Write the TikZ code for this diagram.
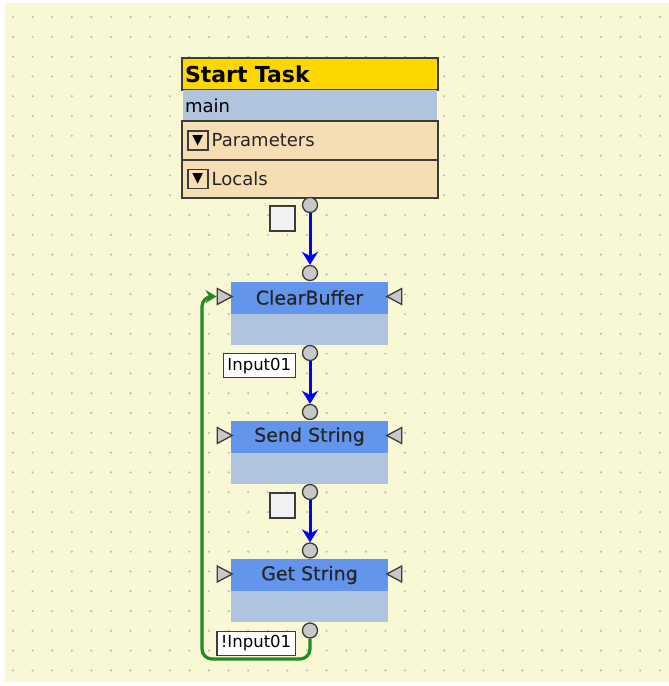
\documentclass[tikz,border=0pt]{standalone}
\usepackage{fontspec}
\setmainfont{DejaVu Sans}
\newfontfamily\blockfont[FakeBold=0.6]{DejaVu Sans}
\usetikzlibrary{arrows.meta, positioning, shapes.geometric}

\definecolor{canvasbg}{RGB}{248,248,212}
\definecolor{griddot}{RGB}{188,188,192}
\definecolor{taskgold}{RGB}{255,215,0}
\definecolor{steelrow}{RGB}{176,196,222}
\definecolor{wheatrow}{RGB}{245,222,179}
\definecolor{headblue}{RGB}{100,149,237}
\definecolor{edgegray}{RGB}{60,60,60}
\definecolor{pingray}{RGB}{200,200,200}
\definecolor{flowblue}{RGB}{0,0,255}
\definecolor{loopgreen}{RGB}{34,139,34}

\begin{document}
\begin{tikzpicture}[x=1pt, y=-1pt,
    taskhead/.style={draw=edgegray, line width=1.5pt, fill=taskgold, minimum width=256pt, minimum height=32pt,
        text width=250pt, align=left, inner sep=0pt, outer sep=0pt, font=\fontsize{22}{26}\selectfont\bfseries},
    taskname/.style={fill=steelrow, minimum width=254pt, minimum height=31pt, text width=250pt, align=left,
        inner sep=0pt, outer sep=0pt, font=\fontsize{18}{22}\selectfont},
    taskrow/.style={draw=edgegray, line width=1.5pt, fill=wheatrow, minimum width=256pt, inner sep=0pt, outer sep=0pt},
    dropbox/.style={draw=edgegray, line width=1.5pt, fill=wheatrow, minimum width=20pt, minimum height=19pt,
        inner sep=0pt, font=\fontsize{14}{14}\selectfont},
    rowtext/.style={inner sep=0pt, font=\fontsize{18}{22}\selectfont, text=black!85},
    blockhead/.style={fill=headblue, minimum width=157pt, minimum height=32pt, inner sep=0pt, outer sep=0pt,
        font=\blockfont\fontsize{19}{22}\selectfont, text=black!85},
    blockbody/.style={fill=steelrow, minimum width=157pt, minimum height=31pt, inner sep=0pt, outer sep=0pt},
    port/.style={circle, draw=edgegray, line width=1.3pt, fill=pingray, minimum size=15pt, inner sep=0pt},
    sideport/.style={isosceles triangle, isosceles triangle stretches, draw=edgegray, line width=1.3pt,
        fill=pingray, minimum width=16pt, minimum height=15pt, inner sep=0pt},
    condlabel/.style={draw=edgegray, line width=1.3pt, fill=white, inner xsep=4pt, inner ysep=1pt,
        minimum height=24pt, font=\fontsize{16.5}{18}\selectfont},
    checkbox/.style={draw=edgegray, line width=1.6pt, fill=black!5, minimum size=25pt, inner sep=0pt},
    flow/.style={-{Stealth[length=13pt, width=16pt]}, flowblue, line width=3pt},
    loopback/.style={-{Stealth[length=11pt, width=13pt]}, loopgreen, line width=3.2pt, rounded corners=10pt}
]
    \useasboundingbox (0,0) rectangle (669,686);

    % canvas with its dot grid
    \fill[canvasbg] (5,3) rectangle (669,682);
    \foreach \i in {0,...,33} {
        \foreach \j in {0,...,33} {
            \fill[griddot] (13+19.6*\i, 17+19.8*\j) circle (1.2pt);
        }
    }

    % start task header
    \node[taskhead] (task) at (310,74) {Start Task};
    \node[taskname, below=0pt of task] (taskmain) {main};
    \node[taskrow, minimum height=39pt, below=0pt of taskmain] (params) {};
    \node[taskrow, minimum height=38pt, below=0pt of params] (locals) {};
    \node[dropbox, anchor=west] (params-btn) at ([xshift=5pt]params.west) {▼};
    \node[rowtext, anchor=west] (params-text) at ([xshift=3pt]params-btn.east) {Parameters};
    \node[dropbox, anchor=west] (locals-btn) at ([xshift=5pt]locals.west) {▼};
    \node[rowtext, anchor=west] (locals-text) at ([xshift=3pt]locals-btn.east) {Locals};

    \node[port] (start-out) at (310,205) {};
    \node[checkbox, anchor=north east] (start-check) at ([xshift=-6pt]start-out.west) {};

    % function blocks
    \foreach \blk/\title/\y in {cb/ClearBuffer/297.5, ss/Send String/436.5, gs/Get String/575} {
        \node[blockhead] (\blk) at (309.5,\y) {\title};
        \node[blockbody, below=0pt of \blk] (\blk-body) {};
        \node[port] (\blk-in) at (310,\y-24.5) {};
        \node[port] (\blk-out) at (310,\y+55.5) {};
        \node[sideport, shape border rotate=0] (\blk-left) at (222,\y-1) {};
        \node[sideport, shape border rotate=180] (\blk-right) at (397,\y-1) {};
    }

    % conditions on the outputs
    \node[condlabel, anchor=north east] (cb-cond) at ([xshift=-6pt]cb-out.west) {Input01};
    \node[checkbox, anchor=north east] (ss-check) at ([xshift=-6pt]ss-out.west) {};
    \node[condlabel, anchor=north east] (gs-cond) at ([xshift=-6pt]gs-out.west) {!Input01};

    % flow
    \draw[flow] (start-out) -- (cb-in);
    \draw[flow] (cb-out) -- (ss-in);
    \draw[flow] (ss-out) -- (gs-in);

    % loop back to the first block
    \coordinate (loopturn) at (202,659);
    \draw[loopback] (gs-out) |- (loopturn) |- (cb-left);
\end{tikzpicture}
\end{document}
